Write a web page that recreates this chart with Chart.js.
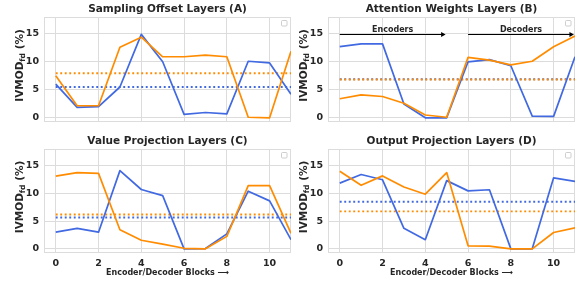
<!DOCTYPE html>
<html>
<head>
<meta charset="utf-8">
<script src="https://cdn.jsdelivr.net/npm/chart.js@4/dist/chart.umd.min.js"></script>
<style>
  html, body { margin: 0; padding: 0; background: #fff; }
  #wrap { position: relative; width: 579px; height: 284px; overflow: hidden; }
  #wrap canvas { position: absolute; left: 0; top: 0; }
</style>
</head>
<body>
<div id="wrap"></div>
<script>
// data
const blocks = [0, 1, 2, 3, 4, 5, 6, 7, 8, 9, 10, 11];
const xTicks = [0, 2, 4, 6, 8, 10];
const yTicks = [0, 5, 10, 15];

const titles = [
  "Sampling Offset Layers (A)",
  "Attention Weights Layers (B)",
  "Value Projection Layers (C)",
  "Output Projection Layers (D)",
];

const blueA = [6.0, 1.85, 2.0, 5.5, 14.9, 10.0, 0.6, 0.95, 0.7, 10.1, 9.8, 4.2];
const orangeA = [7.5, 2.15, 2.15, 12.6, 14.4, 10.9, 10.9, 11.2, 10.9, 0.1, 0.0, 11.9];
const blueB = [12.7, 13.2, 13.2, 2.45, 0.0, 0.0, 10.0, 10.4, 9.3, 0.3, 0.25, 10.9];
const orangeB = [3.4, 4.1, 3.8, 2.6, 0.5, 0.1, 10.8, 10.3, 9.45, 10.1, 12.7, 14.6];
const blueC = [3.0, 3.7, 3.0, 14.1, 10.7, 9.6, 0.0, 0.05, 2.7, 10.4, 8.65, 1.65];
const orangeC = [13.1, 13.75, 13.6, 3.45, 1.55, 0.85, 0.1, 0.0, 2.25, 11.4, 11.4, 2.8];
const blueD = [11.85, 13.4, 12.45, 3.7, 1.65, 12.3, 10.45, 10.65, 0.0, 0.0, 12.8, 12.15];
const orangeD = [14.0, 11.45, 13.15, 11.15, 9.85, 13.75, 0.55, 0.5, 0.0, 0.0, 2.95, 3.8];

// dotted average lines
const blueMeans = [5.5, 6.89, 5.65, 8.5];
const orangeMeans = [7.95, 6.85, 6.2, 6.75];

// encoder / decoder arrows in panel B
const arrowLabels = ["Encoders", "Decoders"];
const arrowFrom = [0, 6];
const arrowTo = [4.95, 10.95];
const arrowY = 15;

const BLUE = "#4169e1";
const ORANGE = "#ff8c00";
const GRID = "#dcdcdc";
const TEXT = "#262626";
const FONT = '"DejaVu Sans", sans-serif';

const W = 579, H = 284;

const panels = [
  { area: [44, 17, 291, 122], blue: blueA, orange: orangeA, showX: false, arrows: false },
  { area: [328, 17, 575, 122], blue: blueB, orange: orangeB, showX: false, arrows: true },
  { area: [44, 149, 291, 253], blue: blueC, orange: orangeC, showX: true, arrows: false },
  { area: [328, 149, 575, 253], blue: blueD, orange: orangeD, showX: true, arrows: false },
];

function series(vals) {
  return vals.map((v, i) => ({ x: blocks[i], y: v }));
}

function meanLine(m) {
  return [{ x: blocks[0], y: m }, { x: blocks[blocks.length - 1], y: m }];
}

function decor(idx, p) {
  return {
    id: "decor" + idx,
    beforeDatasetsDraw(chart) {
      const { ctx, chartArea: a } = chart;
      ctx.save();
      ctx.strokeStyle = GRID;
      ctx.lineWidth = 1;
      ctx.strokeRect(a.left + 0.5, a.top + 0.5, a.right - a.left - 1, a.bottom - a.top - 1);
      ctx.restore();
    },
    afterDraw(chart) {
      const { ctx, chartArea: a, scales } = chart;
      ctx.save();
      ctx.fillStyle = TEXT;
      ctx.textAlign = "center";
      ctx.textBaseline = "middle";

      // title
      ctx.font = "bold 10.5px " + FONT;
      ctx.fillText(titles[idx], (a.left + a.right) / 2, a.top - 8);

      // y label with subscript
      const cx = a.left - 24, cy = (a.top + a.bottom) / 2 - 4;
      ctx.translate(cx, cy);
      ctx.rotate(-Math.PI / 2);
      const big = "bold 10.5px " + FONT, small = "bold 7.5px " + FONT;
      ctx.font = big; const w1 = ctx.measureText("IVMOD").width; const w3 = ctx.measureText(" (%)").width;
      ctx.font = small; const w2 = ctx.measureText("fd").width;
      let x = -(w1 + w2 + w3) / 2;
      ctx.textAlign = "left";
      ctx.font = big; ctx.fillText("IVMOD", x, 0); x += w1;
      ctx.font = small; ctx.fillText("fd", x, 2.8); x += w2;
      ctx.font = big; ctx.fillText(" (%)", x, 0);
      ctx.setTransform(1, 0, 0, 1, 0, 0);

      // x label
      if (p.showX) {
        ctx.textAlign = "center";
        ctx.font = "bold 8px " + FONT;
        ctx.fillText("Encoder/Decoder Blocks \u27F6", (a.left + a.right) / 2, 273);
      }

      // empty legend box
      ctx.strokeStyle = "#c8c8c8";
      ctx.fillStyle = "#ffffff";
      ctx.lineWidth = 0.9;
      ctx.beginPath();
      ctx.roundRect(a.right - 9.5, a.top + 3.5, 5.5, 5.5, 1);
      ctx.fill();
      ctx.stroke();

      // arrows
      if (p.arrows) {
        const xs = scales.x, ys = scales.y;
        const yy = Math.round(ys.getPixelForValue(arrowY)) + 0.5;
        arrowLabels.forEach((lab, i) => {
          const x0 = xs.getPixelForValue(arrowFrom[i]);
          const x1 = xs.getPixelForValue(arrowTo[i]);
          ctx.strokeStyle = "#000";
          ctx.fillStyle = "#000";
          ctx.lineWidth = 1;
          ctx.beginPath();
          ctx.moveTo(x0, yy);
          ctx.lineTo(x1 - 3, yy);
          ctx.stroke();
          ctx.beginPath();
          ctx.moveTo(x1, yy);
          ctx.lineTo(x1 - 4.5, yy - 2.6);
          ctx.lineTo(x1 - 4.5, yy + 2.6);
          ctx.closePath();
          ctx.fill();
          ctx.fillStyle = TEXT;
          ctx.font = "bold 8px " + FONT;
          ctx.textAlign = "center";
          ctx.textBaseline = "alphabetic";
          ctx.fillText(lab, (x0 + x1) / 2, yy - 3);
        });
      }
      ctx.restore();
    },
  };
}

const wrap = document.getElementById("wrap");

panels.forEach((p, idx) => {
  const canvas = document.createElement("canvas");
  canvas.width = W;
  canvas.height = H;
  canvas.style.width = W + "px";
  canvas.style.height = H + "px";
  wrap.appendChild(canvas);

  const [l, t, r, b] = p.area;
  const xh = p.showX ? H - b : 0;

  new Chart(canvas.getContext("2d"), {
    type: "line",
    data: {
      datasets: [
        { data: series(p.orange), borderColor: ORANGE, borderWidth: 1.7, order: 0 },
        { data: series(p.blue), borderColor: BLUE, borderWidth: 1.7, order: 1 },
        { data: meanLine(orangeMeans[idx]), borderColor: ORANGE, borderWidth: 1.9, borderDash: [1.9, 2.6], order: 2 },
        { data: meanLine(blueMeans[idx]), borderColor: BLUE, borderWidth: 1.9, borderDash: [1.9, 2.6], order: 3 },
      ],
    },
    options: {
      responsive: false,
      animation: false,
      events: [],
      layout: { padding: { left: l - 44, top: t, right: W - r, bottom: H - b - xh } },
      elements: {
        point: { radius: 0 },
        line: { tension: 0, borderCapStyle: "butt", borderJoinStyle: "round" },
      },
      datasets: { line: { clip: 0 } },
      plugins: { legend: { display: false }, tooltip: { enabled: false }, title: { display: false } },
      scales: {
        x: {
          type: "linear",
          min: -0.55,
          max: 11,
          afterBuildTicks: (s) => { s.ticks = xTicks.map((v) => ({ value: v })); },
          afterFit: (s) => { s.height = xh; },
          grid: { color: GRID, lineWidth: 1, drawTicks: false },
          border: { display: false },
          ticks: {
            display: p.showX,
            padding: 5,
            color: TEXT,
            font: { family: FONT, size: 9.5, weight: "bold" },
            maxRotation: 0,
          },
        },
        y: {
          min: -0.75,
          max: 18,
          afterBuildTicks: (s) => { s.ticks = yTicks.map((v) => ({ value: v })); },
          afterFit: (s) => { s.width = 44; },
          grid: { color: GRID, lineWidth: 1, drawTicks: false },
          border: { display: false },
          ticks: {
            padding: 5,
            color: TEXT,
            font: { family: FONT, size: 9.5, weight: "bold" },
          },
        },
      },
    },
    plugins: [decor(idx, p)],
  });
});
</script>
</body>
</html>
